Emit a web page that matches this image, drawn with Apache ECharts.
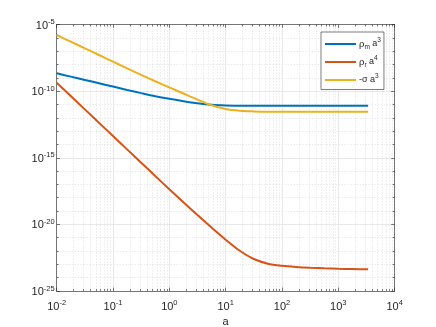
<!DOCTYPE html>
<html><head><meta charset="utf-8">
<script src="https://cdn.jsdelivr.net/npm/echarts@6/dist/echarts.min.js"></script>
<style>html,body{margin:0;padding:0;background:#fff}#c{width:436px;height:327px}</style>
</head><body><div id="c"></div>
<script>
// x values (scale factor a), read at quarter-decade steps
const a = [0.01, 0.01778, 0.03162, 0.05623, 0.1, 0.1778, 0.3162, 0.5623, 1, 1.778, 3.162, 5.623, 10, 17.78, 31.62, 56.23, 100, 177.8, 316.2, 562.3, 1000, 1778, 3388];
// y values, stored as log10 of the plotted quantity
const rhoM_a3_log10     = [-8.66, -8.91, -9.16, -9.41, -9.66, -9.91, -10.15, -10.38, -10.58, -10.76, -10.91, -11.02, -11.07, -11.09, -11.10, -11.10, -11.10, -11.10, -11.10, -11.10, -11.10, -11.10, -11.10];
const rhoR_a4_log10     = [-9.37, -10.37, -11.37, -12.37, -13.37, -14.37, -15.37, -16.37, -17.36, -18.34, -19.30, -20.24, -21.15, -21.98, -22.60, -22.95, -23.11, -23.20, -23.26, -23.30, -23.33, -23.35, -23.37];
const negSigma_a3_log10 = [-5.79, -6.29, -6.79, -7.29, -7.79, -8.29, -8.78, -9.26, -9.72, -10.18, -10.64, -11.06, -11.34, -11.47, -11.52, -11.54, -11.54, -11.54, -11.54, -11.54, -11.54, -11.54, -11.54];
const seriesNames = ['rhoM', 'rhoR', 'negSigma'];
const xTickExponents = [-2, -1, 0, 1, 2, 3, 4];
const yTickExponents = [-25, -20, -15, -10, -5];
const xLabel = 'a';

const FONT = '"Liberation Sans", Arial, Helvetica, sans-serif';
const AX = '#262626';
const GMAJ = '#e2e2e2';
const GMIN = '#cdcdcd';
const COLORS = ['#0072BD', '#D95319', '#EDB120'];

const tickRich = {
  b: {fontSize: 11, fontFamily: FONT, color: AX, lineHeight: 13, padding: [4, 0, 0, 0], verticalAlign: 'bottom'},
  s: {fontSize: 7.5, fontFamily: FONT, color: AX, lineHeight: 9, verticalAlign: 'top'}
};
const powLabel = e => '{b|10}{s|' + e + '}';

const legendText = {
  rhoM: '{g|ρ}{sub|m}{t| a}{sup|3}',
  rhoR: '{g|ρ}{sub|r}{t| a}{sup|4}',
  negSigma: '{t|-σ a}{sup|3}'
};

function pairs(ys) { return a.map((x, i) => [x, ys[i]]); }

const chart = echarts.init(document.getElementById('c'), null, {renderer: 'canvas'});
const commonX = {
  type: 'log', logBase: 10,
  min: Math.pow(10, xTickExponents[0]), max: Math.pow(10, xTickExponents[xTickExponents.length - 1]),
  axisLine: {show: true, onZero: false, lineStyle: {color: AX, width: 0.6}},
  axisTick: {show: true, inside: true, length: 3.4, lineStyle: {color: AX, width: 0.6}},
  minorTick: {show: true, splitNumber: 9, length: 2, lineStyle: {color: AX, width: 0.6}}
};
const commonY = {
  type: 'value',
  min: yTickExponents[0], max: yTickExponents[yTickExponents.length - 1],
  interval: yTickExponents[1] - yTickExponents[0],
  axisLine: {show: true, onZero: false, lineStyle: {color: AX, width: 0.6}},
  axisTick: {show: true, inside: true, length: 3.4, lineStyle: {color: AX, width: 0.6}},
  minorTick: {show: true, splitNumber: 5, length: 2, lineStyle: {color: AX, width: 0.6}}
};

chart.setOption({
  animation: false,
  backgroundColor: '#ffffff',
  grid: {left: 56.7, right: 41.4, top: 24.5, bottom: 36, containLabel: false, outerBoundsMode: 'none'},
  xAxis: [
    Object.assign({}, commonX, {
      position: 'bottom',
      name: xLabel, nameLocation: 'middle', nameGap: 24,
      nameTextStyle: {fontFamily: FONT, fontSize: 11, color: AX},
      axisLabel: {show: true, margin: 8, formatter: v => powLabel(Math.round(Math.log10(v))), rich: tickRich},
      splitLine: {show: true, lineStyle: {color: GMAJ, width: 0.8}},
      minorSplitLine: {show: true, lineStyle: {color: GMIN, width: 0.6, type: [1, 2]}}
    }),
    Object.assign({}, commonX, {
      position: 'top',
      axisLabel: {show: false}, splitLine: {show: false}, minorSplitLine: {show: false}
    })
  ],
  yAxis: [
    Object.assign({}, commonY, {
      position: 'left',
      axisLabel: {show: true, margin: 2, formatter: v => powLabel(v), rich: tickRich},
      splitLine: {show: true, lineStyle: {color: GMAJ, width: 0.8}},
      minorSplitLine: {show: true, lineStyle: {color: GMIN, width: 0.6, type: [1, 2]}}
    }),
    Object.assign({}, commonY, {
      position: 'right',
      axisLabel: {show: false}, splitLine: {show: false}, minorSplitLine: {show: false}
    })
  ],
  legend: {
    orient: 'vertical', left: 321, top: 32,
    data: seriesNames,
    icon: 'rect', itemWidth: 31, itemHeight: 2, itemGap: 4,
    padding: [5, 3, 5, 4],
    backgroundColor: '#ffffff', borderColor: AX, borderWidth: 0.6, borderRadius: 0,
    formatter: n => legendText[n],
    textStyle: {
      fontFamily: FONT, color: AX, padding: [0, 0, 0, -2],
      rich: {
        g: {fontSize: 9.5, fontFamily: FONT, color: AX, lineHeight: 14},
        t: {fontSize: 9, fontFamily: FONT, color: AX, lineHeight: 14},
        sub: {fontSize: 6.5, fontFamily: FONT, color: AX, lineHeight: 7, verticalAlign: 'bottom'},
        sup: {fontSize: 6.5, fontFamily: FONT, color: AX, lineHeight: 7, verticalAlign: 'top'}
      }
    }
  },
  series: [
    {name: seriesNames[0], type: 'line', data: pairs(rhoM_a3_log10), color: COLORS[0]},
    {name: seriesNames[1], type: 'line', data: pairs(rhoR_a4_log10), color: COLORS[1]},
    {name: seriesNames[2], type: 'line', data: pairs(negSigma_a3_log10), color: COLORS[2]}
  ].map(s => Object.assign(s, {
    showSymbol: false, symbol: 'none', smooth: 0.3, clip: true,
    lineStyle: {width: 2, color: s.color}
  }))
});
</script>
</body></html>
